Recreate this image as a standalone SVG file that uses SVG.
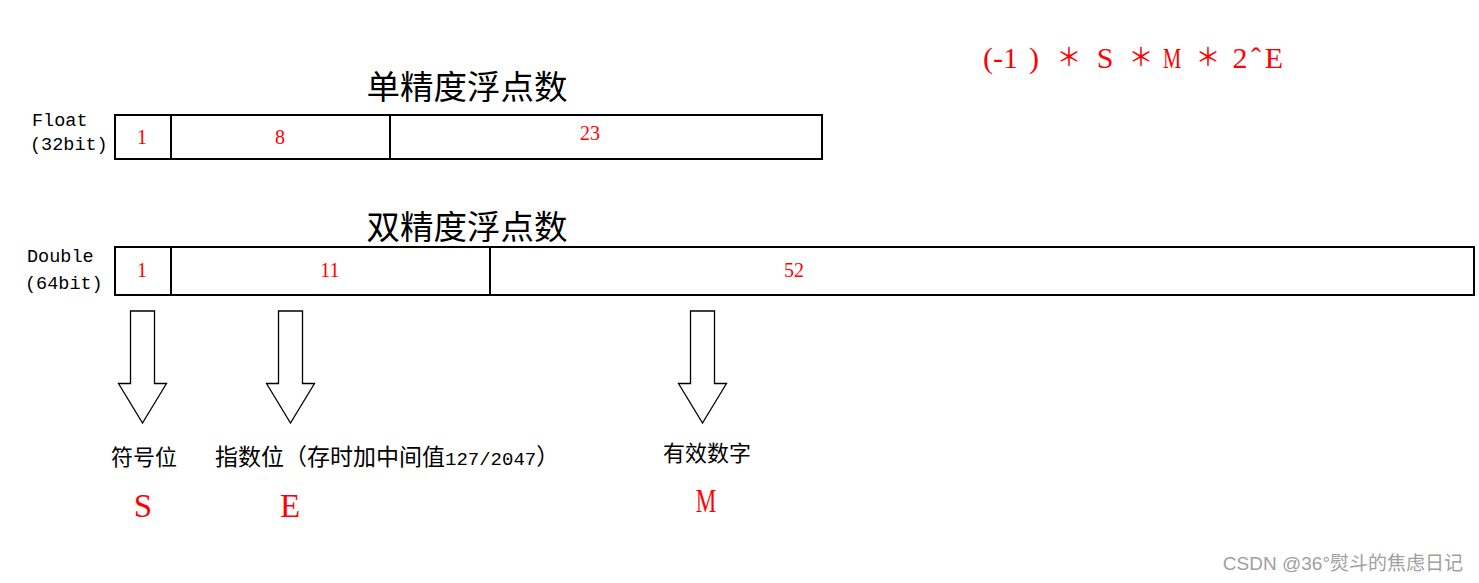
<svg xmlns="http://www.w3.org/2000/svg" width="1479" height="583" viewBox="0 0 1479 583">
<style>
.box{fill:none;stroke:#000;stroke-width:2}
.div{stroke:#000;stroke-width:2}
.num{font-family:"Liberation Serif","Noto Sans CJK SC",serif;font-size:20px;fill:#ff0000;text-anchor:middle}
.lbl{font-family:"Liberation Mono","Noto Sans CJK SC",monospace;font-size:18.5px;fill:#000}
.title{font-family:"Noto Sans CJK SC",sans-serif;font-size:33.5px;fill:#000;text-anchor:middle}
.cn{font-family:"Noto Sans CJK SC",sans-serif;font-size:22px;fill:#000}
.mono{font-family:"Liberation Mono",monospace;font-size:19px}
.big{font-family:"Liberation Serif",serif;font-size:33px;fill:#ff0000;text-anchor:middle}
.arrow{fill:#fff;stroke:#000;stroke-width:1.3;stroke-linejoin:miter}
.fx{font-family:"Liberation Serif",serif;font-size:30px;fill:#ff0000}
.star{font-family:"Noto Sans CJK SC",sans-serif;font-size:25px;fill:#ff0000;text-anchor:middle}
</style>
<rect width="1479" height="583" fill="#fff"/>
<g id="formula">
<text class="fx" x="983" y="68">(-1</text>
<text class="fx" x="1029" y="68">)</text>
<text class="star" x="1069" y="66">＊</text>
<text class="fx" x="1105" y="68" text-anchor="middle">S</text>
<text class="star" x="1141" y="66">＊</text>
<text class="fx" transform="translate(1172,68) scale(0.68,1)" text-anchor="middle">M</text>
<text class="star" x="1208" y="66">＊</text>
<text class="fx" x="1240" y="68" text-anchor="middle">2</text>
<text class="fx" x="1256" y="68" text-anchor="middle">ˆ</text>
<text class="fx" x="1274" y="68" text-anchor="middle">E</text>
</g>
<g id="float">
<text class="title" x="467" y="99">单精度浮点数</text>
<text class="lbl" x="32" y="126">Float</text>
<text class="lbl" x="30" y="150">(32bit)</text>
<rect class="box" x="115" y="115" width="707" height="44"/>
<line class="div" x1="171" y1="115" x2="171" y2="159"/>
<line class="div" x1="390" y1="115" x2="390" y2="159"/>
<text class="num" x="142" y="144">1</text>
<text class="num" x="280" y="144">8</text>
<text class="num" x="590" y="140">23</text>
</g>
<g id="double">
<text class="title" x="467" y="239">双精度浮点数</text>
<text class="lbl" x="27" y="262">Double</text>
<text class="lbl" x="25" y="289">(64bit)</text>
<rect class="box" x="115" y="247" width="1359" height="48"/>
<line class="div" x1="171" y1="247" x2="171" y2="295"/>
<line class="div" x1="490" y1="247" x2="490" y2="295"/>
<text class="num" x="142" y="277">1</text>
<text class="num" x="330" y="277">11</text>
<text class="num" x="794" y="277">52</text>
</g>
<g id="connectors">
<polygon class="arrow" points="130.5,311 154.5,311 154.5,383.5 166.5,383.5 142.5,423 118.5,383.5 130.5,383.5"/>
<polygon class="arrow" points="278.5,311 302.5,311 302.5,383.5 314.5,383.5 290.5,423 266.5,383.5 278.5,383.5"/>
<polygon class="arrow" points="690.5,311 714.5,311 714.5,383.5 726.5,383.5 702.5,423 678.5,383.5 690.5,383.5"/>
</g>
<g id="sign">
<text class="cn" x="111" y="465">符号位</text>
<text class="big" x="143" y="517">S</text>
</g>
<g id="exponent">
<text class="cn" x="215" y="465" style="font-size:23px">指数位（存时加中间值<tspan class="mono">127/2047</tspan>）</text>
<text class="big" x="290" y="517">E</text>
</g>
<g id="mantissa">
<text class="cn" x="663" y="461">有效数字</text>
<text class="big" transform="translate(706,512) scale(0.7,1)">M</text>
</g>
<text x="1463" y="570" font-family="Liberation Sans, Noto Sans CJK SC, sans-serif" font-size="19" fill="#a0a0a0" text-anchor="end">CSDN @36°熨斗的焦虑日记</text>
</svg>
